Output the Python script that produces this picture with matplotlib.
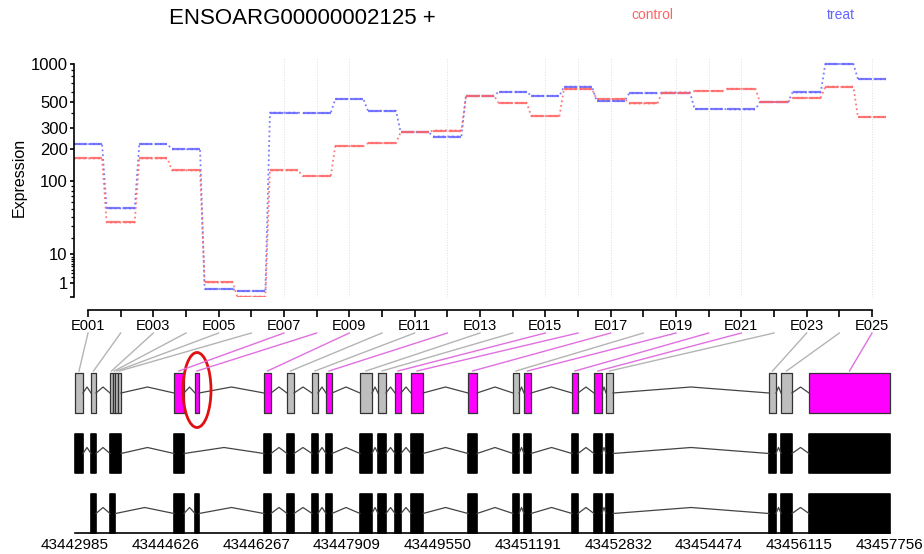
import numpy as np
import matplotlib.pyplot as plt
from matplotlib.patches import Rectangle, Ellipse

plt.rcParams['font.family'] = ['Liberation Sans', 'DejaVu Sans']

gene_id = "ENSOARG00000002125 +"
conditions = ["control", "treat"]
cond_colors = ["#ff6464", "#6464ff"]

exon_ids = ["E%03d" % i for i in range(1, 26)]
control = [164, 34, 164, 127, 1.1, 0.0, 127, 112, 211, 224, 279, 288, 557,
           488, 380, 630, 525, 483, 591, 610, 635, 497, 537, 660, 373]
treat = [220, 51, 220, 198, 0.31, 0.17, 406, 403, 525, 420, 279, 256, 557,
         600, 557, 660, 507, 585, 591, 436, 432, 497, 594, 1000, 758]
significant = ["E007", "E008", "E009", "E012", "E015", "E016", "E017",
               "E019", "E020", "E021", "E025"]

# exon bin coordinates on the chromosome
bin_start = [43442985, 43443275, 43443619, 43443674, 43443719, 43443764,
             43444779, 43445160, 43446410, 43446827, 43447280, 43447534,
             43448150, 43448477, 43448785, 43449075, 43450108, 43450923,
             43451123, 43451993, 43452391, 43452609, 43455563, 43455781,
             43456288]
bin_end = [43443130, 43443366, 43443674, 43443719, 43443764, 43443819,
           43444961, 43445232, 43446537, 43446954, 43447389, 43447643,
           43448368, 43448622, 43448893, 43449292, 43450271, 43451032,
           43451250, 43452101, 43452536, 43452736, 43455690, 43455980,
           43457756]
# bins (1-based) used by each transcript
transcripts = [
    [1, 2, 3, 4, 5, 6, 7] + list(range(9, 26)),
    [2, 3, 4, 7, 8] + list(range(9, 26)),
]
gene_start, gene_end = 43442985, 43457756
coord_labels = ["43442985", "43444626", "43446267", "43447909", "43449550",
                "43451191", "43452832", "43454474", "43456115", "43457756"]


def fwd(v):
    return np.arcsinh(np.sqrt(np.clip(v, 0, None) / 70.0))


def inv(h):
    return 70.0 * np.sinh(h) ** 2


W, H = 924, 554
fig = plt.figure(figsize=(W / 100, H / 100), dpi=100)

# ---- expression panel ----
ax = fig.add_axes([74 / W, 1 - 296.6 / H, 826 / W, 237.9 / H])
ax.set_yscale('function', functions=(fwd, inv))
ax.set_ylim(0, 1100)
step = 32.667
ax.set_xlim(1 - 14 / step, 1 - 14 / step + 826 / step)

x = np.arange(1, 26)
half = 0.43
for vals, col in zip([treat, control], cond_colors[::-1]):
    xs, ys = [], []
    for xi, v in zip(x, vals):
        xs += [xi - half, xi + half]
        ys += [v, v]
    ax.plot(xs, ys, color=col, lw=1.3, ls=':', alpha=0.85)
    ax.hlines(vals, x - half, x + half, color=col, lw=1.6, alpha=0.85,
              linestyles=(0, (6, 1)))

for e in significant:
    ax.axvline(exon_ids.index(e) + 1, color='#dddddd', lw=0.7, ls=':', zorder=0)

for s in ['top', 'right']:
    ax.spines[s].set_visible(False)
ax.spines['left'].set_bounds(0, 1000)
ax.spines['left'].set_linewidth(1.2)
ax.spines['bottom'].set_position(('outward', 9.4))
ax.spines['bottom'].set_bounds(1, 25)
ax.spines['bottom'].set_linewidth(1.2)
ax.set_yticks([0, 1, 10, 100, 200, 300, 500, 1000])
ax.set_yticklabels(["", "1", "10", "100", "200", "300", "500", "1000"])
ax.set_yticks([2, 3, 4, 5, 6, 7, 8, 9, 20, 30, 40, 50, 60, 70, 80, 90,
               400, 600, 700, 800, 900], minor=True)
ax.set_xticks(x)
ax.set_xticklabels([e if i % 2 == 0 else "" for i, e in enumerate(exon_ids)])
ax.tick_params(axis='x', which='major', length=5, width=1.2, labelsize=10.5, pad=2)
ax.tick_params(axis='y', which='major', length=3, width=1.2, labelsize=12, pad=1.5)
ax.tick_params(axis='y', which='minor', length=2.5, width=0.9)
ax.set_ylabel("Expression", fontsize=11.5, labelpad=3)
ax.patch.set_alpha(0)

fig.text(302 / W, 1 - 18 / H, gene_id, fontsize=16, ha='center', va='center')
fig.text(652 / W, 1 - 15 / H, conditions[0], fontsize=10, color=cond_colors[0],
         ha='center', va='center')
fig.text(841 / W, 1 - 15 / H, conditions[1], fontsize=10, color=cond_colors[1],
         ha='center', va='center')

# ---- gene model panel (y in pixel rows) ----
gx = fig.add_axes([0, 0, 1, 1])
gx.axis('off')
gx.patch.set_alpha(0)
bp = (gene_end - gene_start) / 815.0
gx.set_xlim(gene_start - 75 * bp, gene_start + (W - 75) * bp)
gx.set_ylim(H, 0)


def draw_row(exons, top, bottom, faces, edge, lw):
    mid = (top + bottom) / 2
    for (s, e), fc in zip(exons, faces):
        gx.add_patch(Rectangle((s, top), e - s, bottom - top, facecolor=fc,
                               edgecolor=edge, lw=lw, joinstyle='round'))
    for (s0, e0), (s1, e1) in zip(exons[:-1], exons[1:]):
        if s1 > e0:
            gx.plot([e0, (e0 + s1) / 2, s1], [mid, mid - 6, mid],
                    color='#444444', lw=0.9, zorder=1)


# flattened bins, coloured by significance
faces = ['#ff00ff' if e in significant else '#bebebe' for e in exon_ids]
draw_row(list(zip(bin_start, bin_end)), 373, 413, faces, '#333333', 0.9)

# transcripts: merge touching bins into exons
for tr, (top, bottom) in zip(transcripts, [(434, 473), (494, 533)]):
    exons = []
    for b in tr:
        s, e = bin_start[b - 1], bin_end[b - 1]
        if exons and exons[-1][1] == s:
            exons[-1][1] = e
        else:
            exons.append([s, e])
    draw_row(exons, top, bottom, ['black'] * len(exons), 'black', 1.2)

# connectors from exon labels down to bins
inv_g = gx.transData.inverted()
for i, e in enumerate(exon_ids):
    xd = ax.transData.transform((i + 1, 1))[0]
    xt = inv_g.transform((xd, 0))[0]
    xc = (bin_start[i] + bin_end[i]) / 2
    col = '#e070e0' if e in significant else '#b4b4b4'
    gx.plot([xt, xc], [333, 371], color=col, lw=1.0)

# highlighted exon
hx = (bin_start[7] + bin_end[7]) / 2
gx.add_patch(Ellipse((hx, 390), 28 * bp, 75, fill=False, edgecolor='#e01010', lw=2))

# genomic coordinate axis
gx.plot([gene_start, gene_end], [533, 533], color='black', lw=1.2)
for pos, lab in zip(np.linspace(gene_start, gene_end, len(coord_labels)), coord_labels):
    gx.text(pos, 545, lab, fontsize=11, ha='center', va='center')

fig.savefig("out.png", dpi=100)
